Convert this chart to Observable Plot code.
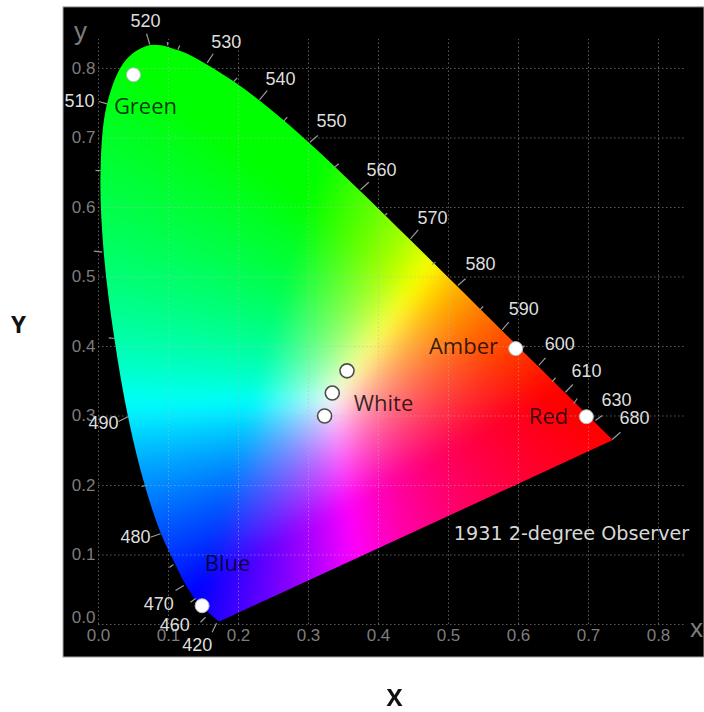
<!DOCTYPE html>
<html>
<head>
<meta charset="utf-8">
<script src="https://cdn.jsdelivr.net/npm/d3@7"></script>
<script src="https://cdn.jsdelivr.net/npm/@observablehq/plot@0.6"></script>
<style>
html,body{margin:0;padding:0;background:#fff;}
svg{display:block;}
</style>
</head>
<body>
<div id="chart"></div>
<script>
// Spectral locus (x, y chromaticity), outline of the coloured area
const locusX = [.1741,.1714,.1689,.1644,.1566,.1440,.1355,.1241,.1096,.0885,.0660,.0430,.0225,.0072,.0030,.0125,.0389,.0743,.1142,.1547,.1929,.2296,.2658,.3016,.3373,.3731,.4087,.4441,.4788,.5125,.5448,.5752,.6029,.6270,.6482,.6658,.6915,.7079,.7347];
const locusY = [.0050,.0051,.0069,.0109,.0177,.0297,.0399,.0578,.0868,.1327,.2007,.2950,.4127,.5384,.6548,.7502,.8120,.8338,.8262,.8059,.7816,.7543,.7243,.6923,.6589,.6245,.5896,.5547,.5202,.4866,.4544,.4242,.3965,.3725,.3514,.3340,.3083,.2920,.2653];

// Axis ticks
const gridTicks = [0,.1,.2,.3,.4,.5,.6,.7,.8];
const yTicksUpper = [.1,.2,.3,.4,.5,.6,.7,.8];
const yTicksBottom = [0];

// Wavelength tick segments: outer end, inner end
const wlX1 = [.0686,.0981,.1161,.1639,.1981,.241,.2696,.3133,.3433,.3861,.4124,.4567,.4814,.5243,.5495,.5861,.6086,.6386,.6529,.6776,.6839,.7196,.7457,.1624,.1529,.1386,.1219,.1071,.0886,.0671,.0286,.0147,-.0067,-.0043,.0004];
const wlY1 = [.85,.8378,.8331,.8212,.7866,.7683,.7299,.7036,.6629,.6364,.5918,.5679,.5213,.4974,.4576,.435,.401,.3837,.355,.3453,.3252,.3007,.2767,-.0111,.0105,.0374,.0561,.0863,.1305,.2,.2921,.4125,.5371,.6532,.7525];
const wlX2 = [.0733,.099,.1133,.1553,.1933,.23,.2647,.3019,.3371,.3743,.4086,.4457,.4767,.5133,.5447,.5767,.6029,.629,.6481,.6671,.679,.71,.7339,.1686,.1457,.1314,.11,.1014,.0743,.0614,.0429,.0243,.0053,.0029,.0124];
const wlY2 = [.8345,.8331,.8273,.8082,.7813,.755,.7242,.694,.658,.6255,.5885,.555,.518,.4878,.4528,.424,.3957,.3727,.3496,.3342,.318,.2935,.2662,.0019,.0033,.0321,.0489,.082,.1256,.1986,.2993,.4115,.5357,.6532,.7492];

// Wavelength labels
const wlLabels = ["520","530","540","550","560","570","580","590","600","610","630","680","510","490","480","470","460","420"];
const wlLabelX = [.0671,.1824,.26,.3329,.4043,.4771,.5457,.6076,.659,.6971,.74,.7657,-.0271,.0071,.0529,.0862,.109,.141];
const wlLabelY = [.868,.8378,.7852,.7242,.6532,.5842,.518,.4542,.4039,.3645,.3223,.2968,.7525,.2896,.1256,.0298,-.0014,-.0292];

// Markers
const dotX = [.05,.148,.596,.697];
const dotY = [.791,.027,.397,.299];
const whiteX = [.355,.334,.323];
const whiteY = [.365,.333,.300];

// Region names
const names = ["Green","Blue","Amber","Red","White"];
const nameX = [.0671,.1843,.5214,.6429,.4071];
const nameY = [.7453,.0878,.4000,.2993,.3180];

// Panel extents and captions
const panelX = [-.05,.8657];
const panelY = [-.0475,.888];
const captionText = ["1931 2-degree Observer"];
const captionX = [.6757];
const captionY = [.1309];

const locus = locusX.map((x,i)=>[x,locusY[i]]);
const idx = arr => arr.map((_,i)=>i);

function chroma(x,y){
  if (y<=0) y=1e-4;
  const X=x/y, Y=1, Z=(1-x-y)/y;
  let r= 3.2406*X-1.5372*Y-0.4986*Z;
  let g=(-0.9689*X+1.8758*Y+0.0415*Z)*1.45;
  let b=( 0.0557*X-0.2040*Y+1.0570*Z)*1.35;
  r=Math.max(r,0); g=Math.max(g,0); b=Math.max(b,0);
  const m=Math.max(r,g,b)||1;
  const c=v=>Math.round(255*Math.pow(v/m,0.85));
  return `rgb(${c(r)},${c(g)},${c(b)})`;
}

// Clip the colour field to the locus outline through the plot's own scales
function clipToLocus(index, scales, values, dims, context, next){
  const g = next(index, scales, values, dims, context);
  const id = "locus-clip";
  const svgNS = "http://www.w3.org/2000/svg";
  const cp = document.createElementNS(svgNS,"clipPath");
  cp.setAttribute("id",id);
  const p = document.createElementNS(svgNS,"path");
  p.setAttribute("d", d3.line().x(d=>scales.x(d[0])).y(d=>scales.y(d[1])).curve(d3.curveCatmullRom)(locus));
  cp.appendChild(p);
  g.appendChild(cp);
  g.setAttribute("clip-path",`url(#${id})`);
  return g;
}

const dim = "#7d7d7d";
const chart = Plot.plot({
  width:704, height:712,
  marginLeft:98, marginRight:46, marginTop:68, marginBottom:88,
  x:{domain:[0,.8], axis:null},
  y:{domain:[0,.8], axis:null},
  color:{type:"identity"},
  style:{background:"#fff", overflow:"visible", filter:"blur(0.7px)"},
  marks:[
    Plot.rect([0],{x1:()=>panelX[0],x2:()=>panelX[1],y1:()=>panelY[0],y2:()=>panelY[1],fill:"#000",stroke:"#aaa",strokeWidth:1}),
    Plot.raster({x1:0,x2:.8,y1:0,y2:.85,pixelSize:1,blur:8,fill:chroma,render:clipToLocus}),
    Plot.ruleX(gridTicks,{y1:0,y2:.8417,stroke:"#b8b8b8",strokeOpacity:.5,strokeDasharray:"1.5,2.5"}),
    Plot.ruleY(gridTicks,{x1:0,x2:.8386,stroke:"#b8b8b8",strokeOpacity:.5,strokeDasharray:"1.5,2.5"}),
    Plot.axisX({ticks:gridTicks,tickSize:0,tickPadding:4,label:null,tickFormat:d=>d.toFixed(1),fill:dim,fontSize:17,fontFamily:"Liberation Sans"}),
    Plot.axisY({ticks:yTicksUpper,tickSize:0,tickPadding:3,label:null,tickFormat:d=>d.toFixed(1),fill:dim,fontSize:17,fontFamily:"Liberation Sans"}),
    Plot.axisY({ticks:yTicksBottom,tickSize:0,tickPadding:3,label:null,dy:-7,tickFormat:d=>d.toFixed(1),fill:dim,fontSize:17,fontFamily:"Liberation Sans"}),
    Plot.link(idx(wlX1),{x1:i=>wlX1[i],y1:i=>wlY1[i],x2:i=>wlX2[i],y2:i=>wlY2[i],stroke:"#9a9a9a",strokeWidth:1.2}),
    Plot.text(wlLabels,{x:(d,i)=>wlLabelX[i],y:(d,i)=>wlLabelY[i],text:d=>d,fill:"#dedede",fontSize:18,fontFamily:"Liberation Sans"}),
    Plot.dot(idx(dotX),{x:i=>dotX[i],y:i=>dotY[i],r:7,fill:"#fff",stroke:"#bbb",strokeWidth:1}),
    Plot.dot(idx(whiteX),{x:i=>whiteX[i],y:i=>whiteY[i],r:7,fill:"#fff",stroke:"#4d4d4d",strokeWidth:1.6}),
    Plot.text(names,{x:(d,i)=>nameX[i],y:(d,i)=>nameY[i],text:d=>d,fill:"#000",fillOpacity:.78,fontSize:22,fontFamily:"Open Sans"}),
    Plot.text(captionText,{x:()=>captionX[0],y:()=>captionY[0],text:d=>d,fill:"#d8d8d8",fontSize:19.2,fontFamily:"DejaVu Sans"}),
    Plot.text(["y"],{x:()=>-.0257,y:()=>.8535,text:d=>d,fill:dim,fontSize:26,fontFamily:"Liberation Sans"}),
    Plot.text(["x"],{x:()=>.8543,y:()=>-.0058,text:d=>d,fill:dim,fontSize:26,fontFamily:"Liberation Sans"}),
    Plot.text(["Y"],{x:()=>-.1143,y:()=>.4302,text:d=>d,fill:"#111",fontSize:24,fontWeight:"bold",fontFamily:"Open Sans"}),
    Plot.text(["X"],{x:()=>.4229,y:()=>-.1065,text:d=>d,fill:"#111",fontSize:24,fontWeight:"bold",fontFamily:"Open Sans"})
  ]
});
document.getElementById("chart").appendChild(chart);
</script>
</body>
</html>
